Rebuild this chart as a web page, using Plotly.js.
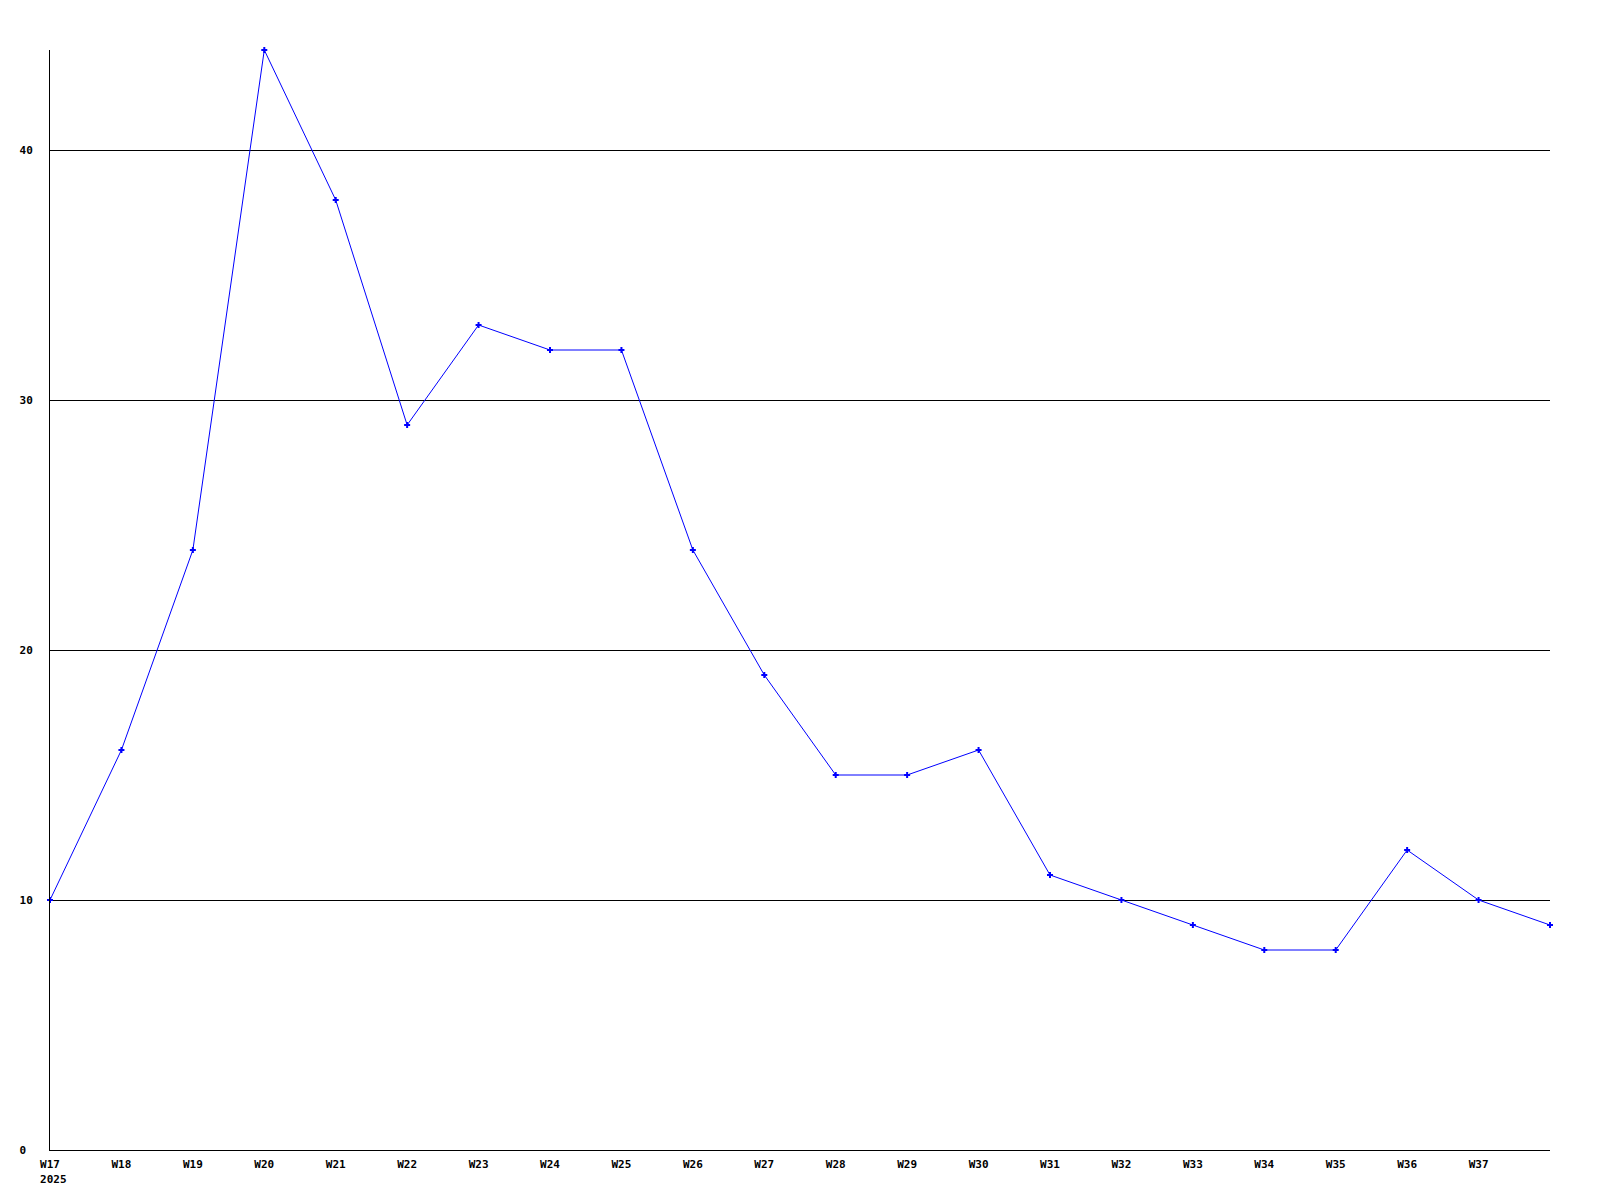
<!DOCTYPE html>
<html>
<head>
<meta charset="utf-8">
<script src="https://cdn.plot.ly/plotly-3.0.1.min.js"></script>
<style>html,body{margin:0;padding:0;background:#fff;}</style>
</head>
<body>
<div id="chart" style="width:1600px;height:1200px;"></div>
<script>
const weeks = ['W17','W18','W19','W20','W21','W22','W23','W24','W25','W26','W27','W28','W29','W30','W31','W32','W33','W34','W35','W36','W37','W38'];
const values = [10,16,24,44,38,29,33,32,32,24,19,15,15,16,11,10,9,8,8,12,10,9];
const yTicks = [0,10,20,30,40];
const yTickLabels = ['0\u00a0','10','20','30','40'];
const yearLabel = '2025';

const xIdx = weeks.map((w,i)=>i);
const xTickVals = xIdx.slice(0, weeks.length-1);
const xTickText = weeks.slice(0, weeks.length-1).map((w,i)=> i===0 ? w + '<br>\u00a0' + yearLabel : w);

const font = {family: '"DejaVu Sans Mono", "Liberation Mono", monospace', size: 11, color: '#000', weight: 'bold'};

Plotly.newPlot('chart', [{
  x: xIdx, y: values, type: 'scatter', mode: 'lines+markers',
  line: {color: '#0000ff', width: 1},
  marker: {color: '#0000ff', size: 5, symbol: 'cross'},
  cliponaxis: false, hoverinfo: 'skip'
}], {
  width: 1600, height: 1200,
  margin: {l: 50, r: 50, t: 50, b: 50, pad: 0},
  paper_bgcolor: '#fff', plot_bgcolor: '#fff',
  showlegend: false,
  font: font,
  xaxis: {
    range: [0, 21], tickmode: 'array', tickvals: xTickVals, ticktext: xTickText,
    showgrid: false, zeroline: false, showline: true, linecolor: '#000', linewidth: 1,
    ticks: '', tickfont: font, ticklabelstandoff: 4
  },
  yaxis: {
    range: [0, 44], tickmode: 'array', tickvals: yTicks, ticktext: yTickLabels,
    showgrid: true, gridcolor: '#000', gridwidth: 1, zeroline: false,
    showline: true, linecolor: '#000', linewidth: 1,
    ticks: '', tickfont: font, ticklabelstandoff: 14
  }
}, {staticPlot: true});
</script>
</body>
</html>
